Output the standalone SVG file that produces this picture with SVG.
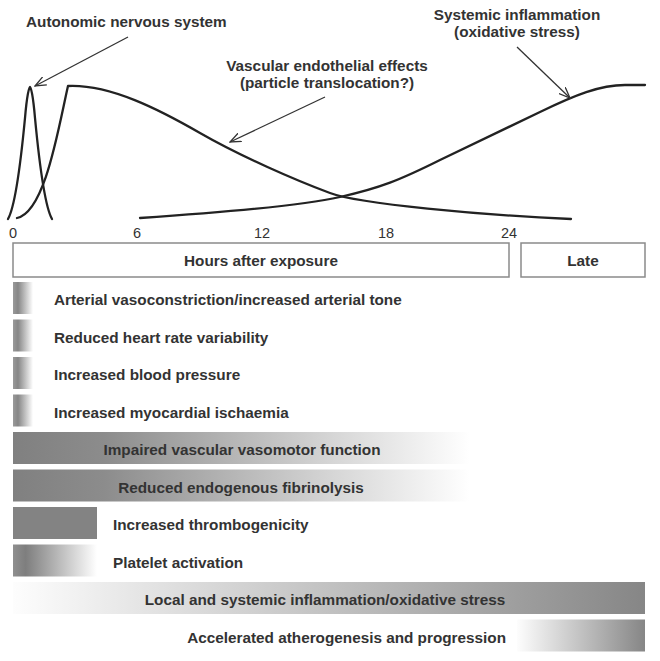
<svg xmlns="http://www.w3.org/2000/svg" width="660" height="661" viewBox="0 0 660 661">
<style>
.t{font-family:"Liberation Sans",Arial,sans-serif;font-weight:bold;font-size:15.3px;fill:#333}
.ax{font-family:"Liberation Sans",Arial,sans-serif;font-size:14.5px;fill:#333;text-anchor:middle}
.c{fill:none;stroke:#222;stroke-width:2.3;stroke-linejoin:round;stroke-linecap:round}
.ar{fill:none;stroke:#333;stroke-width:1.3}
.box{fill:#fff;stroke:#8a8a8a;stroke-width:1.5}
.m{text-anchor:middle}
</style>
<defs>
<marker id="ah" viewBox="0 0 12 10" refX="11" refY="5" markerWidth="12" markerHeight="10" markerUnits="userSpaceOnUse" orient="auto">
<path d="M0,0.5 L11,5 L0,9.5" fill="none" stroke="#333" stroke-width="1.3"/>
</marker>
<linearGradient id="gShort" x1="0" y1="0" x2="1" y2="0">
<stop offset="0" stop-color="#9a9a9a"/><stop offset="0.25" stop-color="#868686"/><stop offset="1" stop-color="#fff"/>
</linearGradient>
<linearGradient id="gLong" x1="0" y1="0" x2="1" y2="0">
<stop offset="0" stop-color="#808080"/><stop offset="0.2" stop-color="#8c8c8c"/><stop offset="0.7" stop-color="#d6d6d6"/><stop offset="1" stop-color="#fff"/>
</linearGradient>
<linearGradient id="gPlate" x1="0" y1="0" x2="1" y2="0">
<stop offset="0" stop-color="#8f8f8f"/><stop offset="0.15" stop-color="#7e7e7e"/><stop offset="1" stop-color="#fff"/>
</linearGradient>
<linearGradient id="gRise" x1="0" y1="0" x2="1" y2="0">
<stop offset="0" stop-color="#fdfdfd"/><stop offset="1" stop-color="#868686"/>
</linearGradient>
</defs>

<g id="curves">
<path class="c" d="M8,219 C16,205 21,160 25,118 C27,95 29,87 30,87 C31,87 33,95 35,118 C39,160 44,205 52,219"/>
<path class="c" d="M17,218 C45,212 58,130 68,86 C110,84 160,110 200,133 C240,156 295,180 330,193 C360,204 480,215 571,219"/>
<path class="c" d="M140,218 C230,212 300,206 340,197 C380,188 400,180 440,160 L540,112 C575,95 600,85 625,85 L645,85"/>
</g>

<g id="connectors">
<line class="ar" x1="128" y1="37" x2="35" y2="86" marker-end="url(#ah)"/>
<line class="ar" x1="325" y1="97" x2="230" y2="142" marker-end="url(#ah)"/>
<line class="ar" x1="517" y1="47" x2="570" y2="98" marker-end="url(#ah)"/>
</g>

<g id="label-autonomic"><text class="t" x="26" y="27">Autonomic nervous system</text></g>
<g id="label-vascular"><text class="t m" x="327" y="71">Vascular endothelial effects</text><text class="t m" x="327" y="88">(particle translocation?)</text></g>
<g id="label-systemic"><text class="t m" x="517" y="20">Systemic inflammation</text><text class="t m" x="517" y="37">(oxidative stress)</text></g>

<g id="axis">
<text class="ax" x="13" y="238">0</text>
<text class="ax" x="137" y="238">6</text>
<text class="ax" x="262" y="238">12</text>
<text class="ax" x="386" y="238">18</text>
<text class="ax" x="509" y="238">24</text>
</g>

<g id="hours"><rect class="box" x="13" y="243" width="496" height="34"/><text class="t m" x="261" y="266">Hours after exposure</text></g>
<g id="late"><rect class="box" x="521" y="243" width="124" height="34"/><text class="t m" x="583" y="266">Late</text></g>

<g id="bar-arterial"><rect x="13" y="282" width="20" height="32" fill="url(#gShort)"/><text class="t" x="54" y="305">Arterial vasoconstriction/increased arterial tone</text></g>
<g id="bar-hrv"><rect x="13" y="319.5" width="20" height="32" fill="url(#gShort)"/><text class="t" x="54" y="342.5">Reduced heart rate variability</text></g>
<g id="bar-bp"><rect x="13" y="357" width="20" height="32" fill="url(#gShort)"/><text class="t" x="54" y="380">Increased blood pressure</text></g>
<g id="bar-ischaemia"><rect x="13" y="394.5" width="20" height="32" fill="url(#gShort)"/><text class="t" x="54" y="417.5">Increased myocardial ischaemia</text></g>
<g id="bar-vasomotor"><rect x="13" y="432" width="457" height="32" fill="url(#gLong)"/><text class="t m" x="242" y="455">Impaired vascular vasomotor function</text></g>
<g id="bar-fibrinolysis"><rect x="13" y="469.5" width="457" height="32" fill="url(#gLong)"/><text class="t m" x="241" y="492.5">Reduced endogenous fibrinolysis</text></g>
<g id="bar-thrombo"><rect x="13" y="507" width="84" height="32" fill="#838383"/><text class="t" x="113" y="530">Increased thrombogenicity</text></g>
<g id="bar-platelet"><rect x="13" y="544.5" width="84" height="32" fill="url(#gPlate)"/><text class="t" x="113" y="567.5">Platelet activation</text></g>
<g id="bar-inflammation"><rect x="13" y="582" width="632" height="32" fill="url(#gRise)"/><text class="t m" x="325" y="605">Local and systemic inflammation/oxidative stress</text></g>
<g id="bar-athero"><rect x="517" y="619.5" width="128" height="32" fill="url(#gRise)"/><text class="t" x="506" y="642.5" text-anchor="end">Accelerated atherogenesis and progression</text></g>
</svg>
